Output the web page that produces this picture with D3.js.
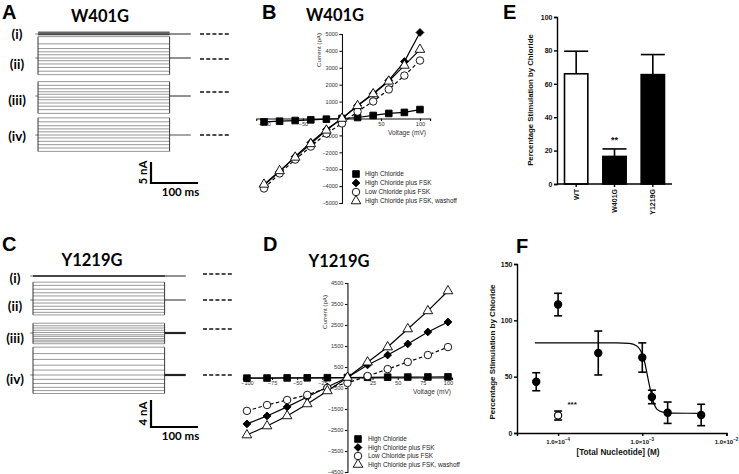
<!DOCTYPE html>
<html><head><meta charset="utf-8">
<script src="https://cdn.jsdelivr.net/npm/d3@7"></script>
<style>body{margin:0;background:#fff}svg{display:block}</style>
</head><body>
<svg id="fig" width="739" height="474"></svg>
<script>
// ================= DATA =================
const voltages = [-100, -80, -60, -40, -20, 0, 20, 40, 60, 80, 100];
const seriesNames = ["High Chloride", "High Chloride plus FSK", "Low Chloride plus FSK", "High Chloride plus FSK, washoff"];

// W401G current-voltage (pA)
const w401gHighCl     = [-200, -160, -120, -80, -40, 0, 60, 180, 300, 360, 530];
const w401gHighClFsk  = [-3960, -3140, -2250, -1420, -650, 0, 770, 1480, 2250, 3370, 5090];
const w401gLowClFsk   = [-4140, -3250, -2430, -1660, -890, -290, 410, 1010, 1720, 2540, 3430];
const w401gWashoff    = [-3900, -3100, -2300, -1500, -700, 0, 750, 1450, 2200, 3140, 4080];

// Y1219G current-voltage (pA)
const y1219gHighCl    = [-30, -25, -20, -15, -10, 0, 10, 15, 20, 25, 30];
const y1219gHighClFsk = [-2210, -1830, -1400, -930, -450, 0, 600, 1070, 1600, 2170, 2640];
const y1219gLowClFsk  = [-1590, -1310, -1070, -830, -500, -260, 70, 400, 740, 1070, 1450];
const y1219gWashoff   = [-2740, -2310, -1830, -1260, -640, 0, 730, 1450, 2310, 3170, 4120];

// IV axis ticks
const ivBxTicks = [-100, -50, 50, 100];
const ivByTicks = [-5000, -4000, -3000, -2000, -1000, 1000, 2000, 3000, 4000, 5000];
const ivDxTicks = [-100, -75, -50, -25, 25, 50, 75, 100];
const ivDyTicks = [-4500, -3500, -2500, -1500, -500, 500, 1500, 2500, 3500, 4500];

// Trace timing (ms) and scale bars
const sweepTimes = [0, 280];
const tailEndTime = 325;
const scaleBarA = {nA: 5, ms: 100};
const scaleBarC = {nA: 4, ms: 100};
const recordLabels = ["(i)", "(ii)", "(iii)", "(iv)"];

// Panel E
const eCategories = ["WT", "W401G", "Y1219G"];
const eMeans = [66, 16.5, 65.5];
const eErrors = [13.5, 4.5, 12];
const eYTicks = [0, 20, 40, 60, 80, 100];

// Panel F
const fConc  = [5.5e-5, 1e-4, 3e-4, 1e-3, 1.3e-3, 2e-3, 5e-3];
const fMeans = [45.5, 114, 71, 67, 32, 18, 16];
const fErrors = [8, 10, 19.5, 13, 6, 9.5, 9.5];
const fOpenConc = [1e-4];
const fOpenMeans = [15.5];
const fOpenErrors = [4];
const fFitConc = [5.3e-5, 5e-4, 7e-4, 8.5e-4, 9.5e-4, 1.05e-3, 1.15e-3, 1.25e-3, 1.35e-3, 1.5e-3, 1.75e-3, 2.2e-3, 5e-3];
const fFitVals = [80, 80, 79.5, 77.5, 73.5, 65, 51, 38, 28, 21, 18.5, 17.6, 17.5];
const fYTicks = [0, 50, 100, 150];
const fXTicks = [1e-4, 1e-3, 1e-2];

// ================= DRAWING =================
const svg = d3.select("#fig");
const TF = "Lato, 'Open Sans', 'Liberation Sans', sans-serif";
const AF = "'Liberation Sans', Arial, sans-serif";

function txt(x, y, s, size, opts = {}) {
  const t = svg.append("text").attr("x", x).attr("y", y).text(s)
    .attr("font-family", opts.family || TF).attr("font-size", size)
    .attr("font-weight", opts.weight || "bold").attr("fill", opts.fill || "#000")
    .attr("text-anchor", opts.anchor || "start");
  if (opts.rotate) t.attr("transform", `rotate(${opts.rotate},${x},${y})`);
  return t;
}

// panel letters
txt(2, 19, "A", 20, {family: AF});
txt(262, 19, "B", 20, {family: AF});
txt(503, 19, "E", 20, {family: AF});
txt(2, 251, "C", 20, {family: AF});
txt(263, 251, "D", 20, {family: AF});
txt(516, 253, "F", 20, {family: AF});

// titles
txt(100, 22, "W401G", 16.5, {anchor: "middle"});
txt(335, 21, "W401G", 16.5, {anchor: "middle"});
txt(92, 266, "Y1219G", 16.5, {anchor: "middle"});
txt(339, 267, "Y1219G", 16.5, {anchor: "middle"});

// ---------- Trace panels (A, C) ----------
function tracePanel(cfg) {
  const g = svg.append("g");
  const xt = d3.scaleLinear().domain([0, 100]).range([cfg.x0, cfg.x0 + 47]);
  cfg.records.forEach((rec, i) => {
    const y = d3.scaleLinear().domain([0, 1]).range([rec.zero, rec.zero - cfg.pxPerNA]);
    const vals = rec.values.map(v => v / 1000);
    const ext = d3.extent(vals);
    g.append("line").attr("x1", xt(-6)).attr("x2", xt(sweepTimes[0]))
      .attr("y1", y(0)).attr("y2", y(0)).attr("stroke", "#444").attr("stroke-width", 0.7);
    g.selectAll(null).data(vals).join("line")
      .attr("x1", xt(sweepTimes[0])).attr("x2", xt(sweepTimes[1]))
      .attr("y1", d => y(d)).attr("y2", d => y(d))
      .attr("stroke", "#444").attr("stroke-width", 0.55);
    if (ext[1] - ext[0] > 1) {
      [sweepTimes[0], sweepTimes[1]].forEach(t => {
        g.append("line").attr("x1", xt(t)).attr("x2", xt(t))
          .attr("y1", y(ext[1])).attr("y2", y(ext[0]))
          .attr("stroke", "#222").attr("stroke-width", 0.9);
      });
    }
    g.append("line").attr("x1", xt(sweepTimes[1])).attr("x2", xt(tailEndTime))
      .attr("y1", y(0)).attr("y2", y(0)).attr("stroke", "#222").attr("stroke-width", rec.tailW);
    g.append("line").attr("x1", cfg.dashX).attr("x2", cfg.dashX + 30)
      .attr("y1", rec.dash).attr("y2", rec.dash)
      .attr("stroke", "#111").attr("stroke-width", 1.5).attr("stroke-dasharray", "4,2.2");
    txt(cfg.labelX, rec.label, recordLabels[i], 13.5, {anchor: "middle"});
  });
  const sb = cfg.scaleBar;
  const yS = d3.scaleLinear().domain([0, 1]).range([0, cfg.pxPerNA]);
  const bx = cfg.sbX, by = cfg.sbY;
  g.append("path")
    .attr("d", `M${bx},${by - yS(sb.nA)}V${by}H${bx + (xt(sb.ms) - xt(0))}`)
    .attr("fill", "none").attr("stroke", "#000").attr("stroke-width", 2.2);
  txt(bx - 4, by - yS(sb.nA) / 2, sb.nA + " nA", 11.5, {anchor: "middle", rotate: -90});
  txt(bx + (xt(sb.ms) - xt(0)) / 2 + 6, by + 13, sb.ms + " ms", 11.5, {anchor: "middle"});
}

tracePanel({
  x0: 38, pxPerNA: 4.2, dashX: 200, labelX: 17,
  scaleBar: scaleBarA, sbX: 151, sbY: 183,
  records: [
    {values: w401gHighCl, zero: 34, dash: 34, label: 38.5, tailW: 1},
    {values: w401gHighClFsk, zero: 58, dash: 59, label: 68.5, tailW: 1},
    {values: w401gLowClFsk, zero: 96, dash: 92, label: 104.5, tailW: 1},
    {values: w401gWashoff, zero: 135, dash: 135, label: 140.5, tailW: 0.8}
  ]
});
tracePanel({
  x0: 33, pxPerNA: 6.75, dashX: 203, labelX: 15,
  scaleBar: scaleBarC, sbX: 151, sbY: 427,
  records: [
    {values: y1219gHighCl, zero: 276, dash: 274, label: 282.5, tailW: 1},
    {values: y1219gHighClFsk, zero: 300, dash: 300, label: 310.5, tailW: 1},
    {values: y1219gLowClFsk, zero: 333, dash: 329, label: 342.5, tailW: 2.2},
    {values: y1219gWashoff, zero: 375, dash: 375, label: 383.5, tailW: 2.2}
  ]
});

// ---------- IV panels (B, D) ----------
const symSquare = d3.symbol().type(d3.symbolSquare).size(44)();
const symDiamond = d3.symbol().type(d3.symbolSquare).size(30)();
const symCircle = d3.symbol().type(d3.symbolCircle).size(44)();
const symTri = d3.symbol().type(d3.symbolTriangle).size(40)();
const markerStyles = [
  {d: symSquare, fill: "#000", rot: 0},
  {d: symDiamond, fill: "#000", rot: 45},
  {d: symCircle, fill: "#fff", rot: 0},
  {d: symTri, fill: "#fff", rot: 0}
];
const lineDash = [null, null, "3.5,2.5", null];

function ivPanel(cfg) {
  const g = svg.append("g");
  const x = d3.scaleLinear().domain(cfg.xDomain).range(cfg.xRange);
  const y = d3.scaleLinear().domain(cfg.yDomain).range(cfg.yRange);
  const xAx = g.append("g").attr("transform", `translate(0,${y(0)})`)
    .call(d3.axisBottom(x).tickValues(cfg.xTicks).tickSize(2.5).tickPadding(1.5).tickFormat(d3.format("d")));
  const yAx = g.append("g").attr("transform", `translate(${x(0)},0)`)
    .call(d3.axisLeft(y).tickValues(cfg.yTicks).tickSize(2.5).tickPadding(1.5).tickFormat(d3.format("d")));
  [xAx, yAx].forEach(a => {
    a.selectAll("path,line").attr("stroke", "#111").attr("stroke-width", 1.1);
    a.selectAll("text").attr("font-family", AF).attr("font-size", 5.6).attr("fill", "#333");
  });
  const line = d3.line().x((d, i) => x(voltages[i])).y(d => y(d));
  cfg.series.forEach((s, k) => {
    g.append("path").datum(s).attr("d", line).attr("fill", "none")
      .attr("stroke", "#000").attr("stroke-width", 1.2)
      .attr("stroke-dasharray", lineDash[k]);
  });
  cfg.series.forEach((s, k) => {
    const m = markerStyles[k];
    g.selectAll(null).data(s).join("path").attr("d", m.d)
      .attr("transform", (d, i) => `translate(${x(voltages[i])},${y(d)}) rotate(${m.rot})`)
      .attr("fill", m.fill).attr("stroke", "#000").attr("stroke-width", 0.9);
  });
  txt(cfg.yLabel[0], cfg.yLabel[1], "Current (pA)", 6.2, {family: AF, weight: "normal", anchor: "middle", rotate: -90, fill: "#333"});
  txt(cfg.xLabel[0], cfg.xLabel[1], "Voltage (mV)", 6.6, {family: AF, weight: "normal", anchor: "middle", fill: "#333"});
  seriesNames.forEach((n, k) => {
    const m = markerStyles[k];
    const ly = cfg.legend.y[k];
    g.append("path").attr("d", m.d)
      .attr("transform", `translate(${cfg.legend.mx},${ly}) rotate(${m.rot})`)
      .attr("fill", m.fill).attr("stroke", "#000").attr("stroke-width", 0.9);
    txt(cfg.legend.tx, ly + 2.3, n, 6.4, {family: AF, weight: "normal", fill: "#222"});
  });
}

ivPanel({
  xDomain: [-110, 113], xRange: [256.2, 430.1],
  yDomain: [-5000, 5000], yRange: [203, 34],
  xTicks: ivBxTicks, yTicks: ivByTicks,
  series: [w401gHighCl, w401gHighClFsk, w401gLowClFsk, w401gWashoff],
  yLabel: [321, 50], xLabel: [407, 135],
  legend: {mx: 356, tx: 365, y: [174, 183, 192, 201]}
});
ivPanel({
  xDomain: [-104, 104], xRange: [242.9, 452],
  yDomain: [-4500, 4500], yRange: [472, 283],
  xTicks: ivDxTicks, yTicks: ivDyTicks,
  series: [y1219gHighCl, y1219gHighClFsk, y1219gLowClFsk, y1219gWashoff],
  yLabel: [327, 312], xLabel: [432, 394],
  legend: {mx: 358, tx: 368, y: [439, 447.5, 456, 464.5]}
});

// ---------- Panel E ----------
(function () {
  const g = svg.append("g");
  const x = d3.scaleBand().domain(eCategories).range([557, 672]).paddingInner(0.35).paddingOuter(0.175);
  const y = d3.scaleLinear().domain([0, 100]).range([184, 17]);
  const fills = ["#fff", "#000", "#000"];
  eCategories.forEach((c, i) => {
    const cx = x(c) + x.bandwidth() / 2;
    g.append("line").attr("x1", cx).attr("x2", cx).attr("y1", y(eMeans[i])).attr("y2", y(eMeans[i] + eErrors[i]))
      .attr("stroke", "#000").attr("stroke-width", 1.6);
    g.append("line").attr("x1", cx - 12).attr("x2", cx + 12).attr("y1", y(eMeans[i] + eErrors[i])).attr("y2", y(eMeans[i] + eErrors[i]))
      .attr("stroke", "#000").attr("stroke-width", 1.6);
  });
  g.selectAll(null).data(eMeans).join("rect")
    .attr("x", (d, i) => x(eCategories[i]) + 0.8).attr("width", x.bandwidth() - 1.6)
    .attr("y", d => y(d)).attr("height", d => y(0) - y(d))
    .attr("fill", (d, i) => fills[i]).attr("stroke", "#000").attr("stroke-width", 1.6);
  const yAx = g.append("g").attr("transform", "translate(557,0)")
    .call(d3.axisLeft(y).tickValues(eYTicks).tickSize(3).tickPadding(1.5));
  const xAx = g.append("g").attr("transform", "translate(0,184)")
    .call(d3.axisBottom(x).tickSize(3).tickFormat(""));
  xAx.select(".domain").attr("d", "M557,0H672");
  [xAx, yAx].forEach(a => a.selectAll("path,line").attr("stroke", "#000").attr("stroke-width", 1.4));
  yAx.selectAll("text").attr("font-family", AF).attr("font-size", 7).attr("font-weight", "bold").attr("fill", "#111");
  eCategories.forEach(c => {
    const cx = x(c) + x.bandwidth() / 2 + 2.5;
    txt(cx, 189, c, 7, {family: AF, anchor: "end", rotate: -90, fill: "#111"});
  });
  txt(533, 100, "Percentage Stimulation by Chloride", 7.8, {family: AF, anchor: "middle", rotate: -90, fill: "#111"});
  const cxW = x("W401G") + x.bandwidth() / 2;
  txt(cxW, 143, "**", 9, {family: AF, anchor: "middle", fill: "#111"});
})();

// ---------- Panel F ----------
(function () {
  const g = svg.append("g");
  const x = d3.scaleLog().domain([Math.pow(10, -4.488), 1e-2]).range([517, 726.5]);
  const y = d3.scaleLinear().domain([0, 150]).range([433, 264]);
  const yAx = g.append("g").attr("transform", "translate(517,0)")
    .call(d3.axisLeft(y).tickValues(fYTicks).tickSize(3).tickPadding(1.5).tickFormat(d3.format("d")));
  const xAx = g.append("g").attr("transform", "translate(0,433)")
    .call(d3.axisBottom(x).tickValues(fXTicks).tickSize(3).tickFormat(""));
  [xAx, yAx].forEach(a => a.selectAll("path,line").attr("stroke", "#000").attr("stroke-width", 1.4));
  yAx.selectAll("text").attr("font-family", AF).attr("font-size", 7).attr("font-weight", "bold").attr("fill", "#111");
  fXTicks.forEach(t => {
    const e = Math.round(Math.log10(t));
    const tt = g.append("text").attr("x", x(t)).attr("y", 443.5).attr("text-anchor", "middle")
      .attr("font-family", AF).attr("font-size", 6).attr("font-weight", "bold").attr("fill", "#111");
    tt.append("tspan").text("1.0\u00d710");
    tt.append("tspan").attr("dy", -2.5).attr("font-size", 4.5).text(String(e).replace("-", "\u2212"));
  });
  const line = d3.line().x((d, i) => x(fFitConc[i])).y(d => y(d)).curve(d3.curveMonotoneX);
  g.append("path").datum(fFitVals).attr("d", line).attr("fill", "none").attr("stroke", "#000").attr("stroke-width", 1.2);
  function pts(conc, means, errs, fill) {
    means.forEach((m, i) => {
      const cx = x(conc[i]);
      g.append("line").attr("x1", cx).attr("x2", cx).attr("y1", y(m - errs[i])).attr("y2", y(m + errs[i]))
        .attr("stroke", "#000").attr("stroke-width", 1.6);
      [m - errs[i], m + errs[i]].forEach(v => g.append("line").attr("x1", cx - 4).attr("x2", cx + 4)
        .attr("y1", y(v)).attr("y2", y(v)).attr("stroke", "#000").attr("stroke-width", 1.6));
      g.append("circle").attr("cx", cx).attr("cy", y(m)).attr("r", 3.6)
        .attr("fill", fill).attr("stroke", "#000").attr("stroke-width", 1.2);
    });
  }
  pts(fConc, fMeans, fErrors, "#000");
  pts(fOpenConc, fOpenMeans, fOpenErrors, "#fff");
  txt(x(fOpenConc[0]) + 14, 407, "***", 8, {family: AF, anchor: "middle", fill: "#111"});
  txt(495, 352, "Percentage Stimulation by Chloride", 8, {family: AF, anchor: "middle", rotate: -90, fill: "#111"});
  txt(618, 455, "[Total Nucleotide] (M)", 8.2, {family: AF, anchor: "middle", fill: "#111"});
})();
</script>
</body></html>
